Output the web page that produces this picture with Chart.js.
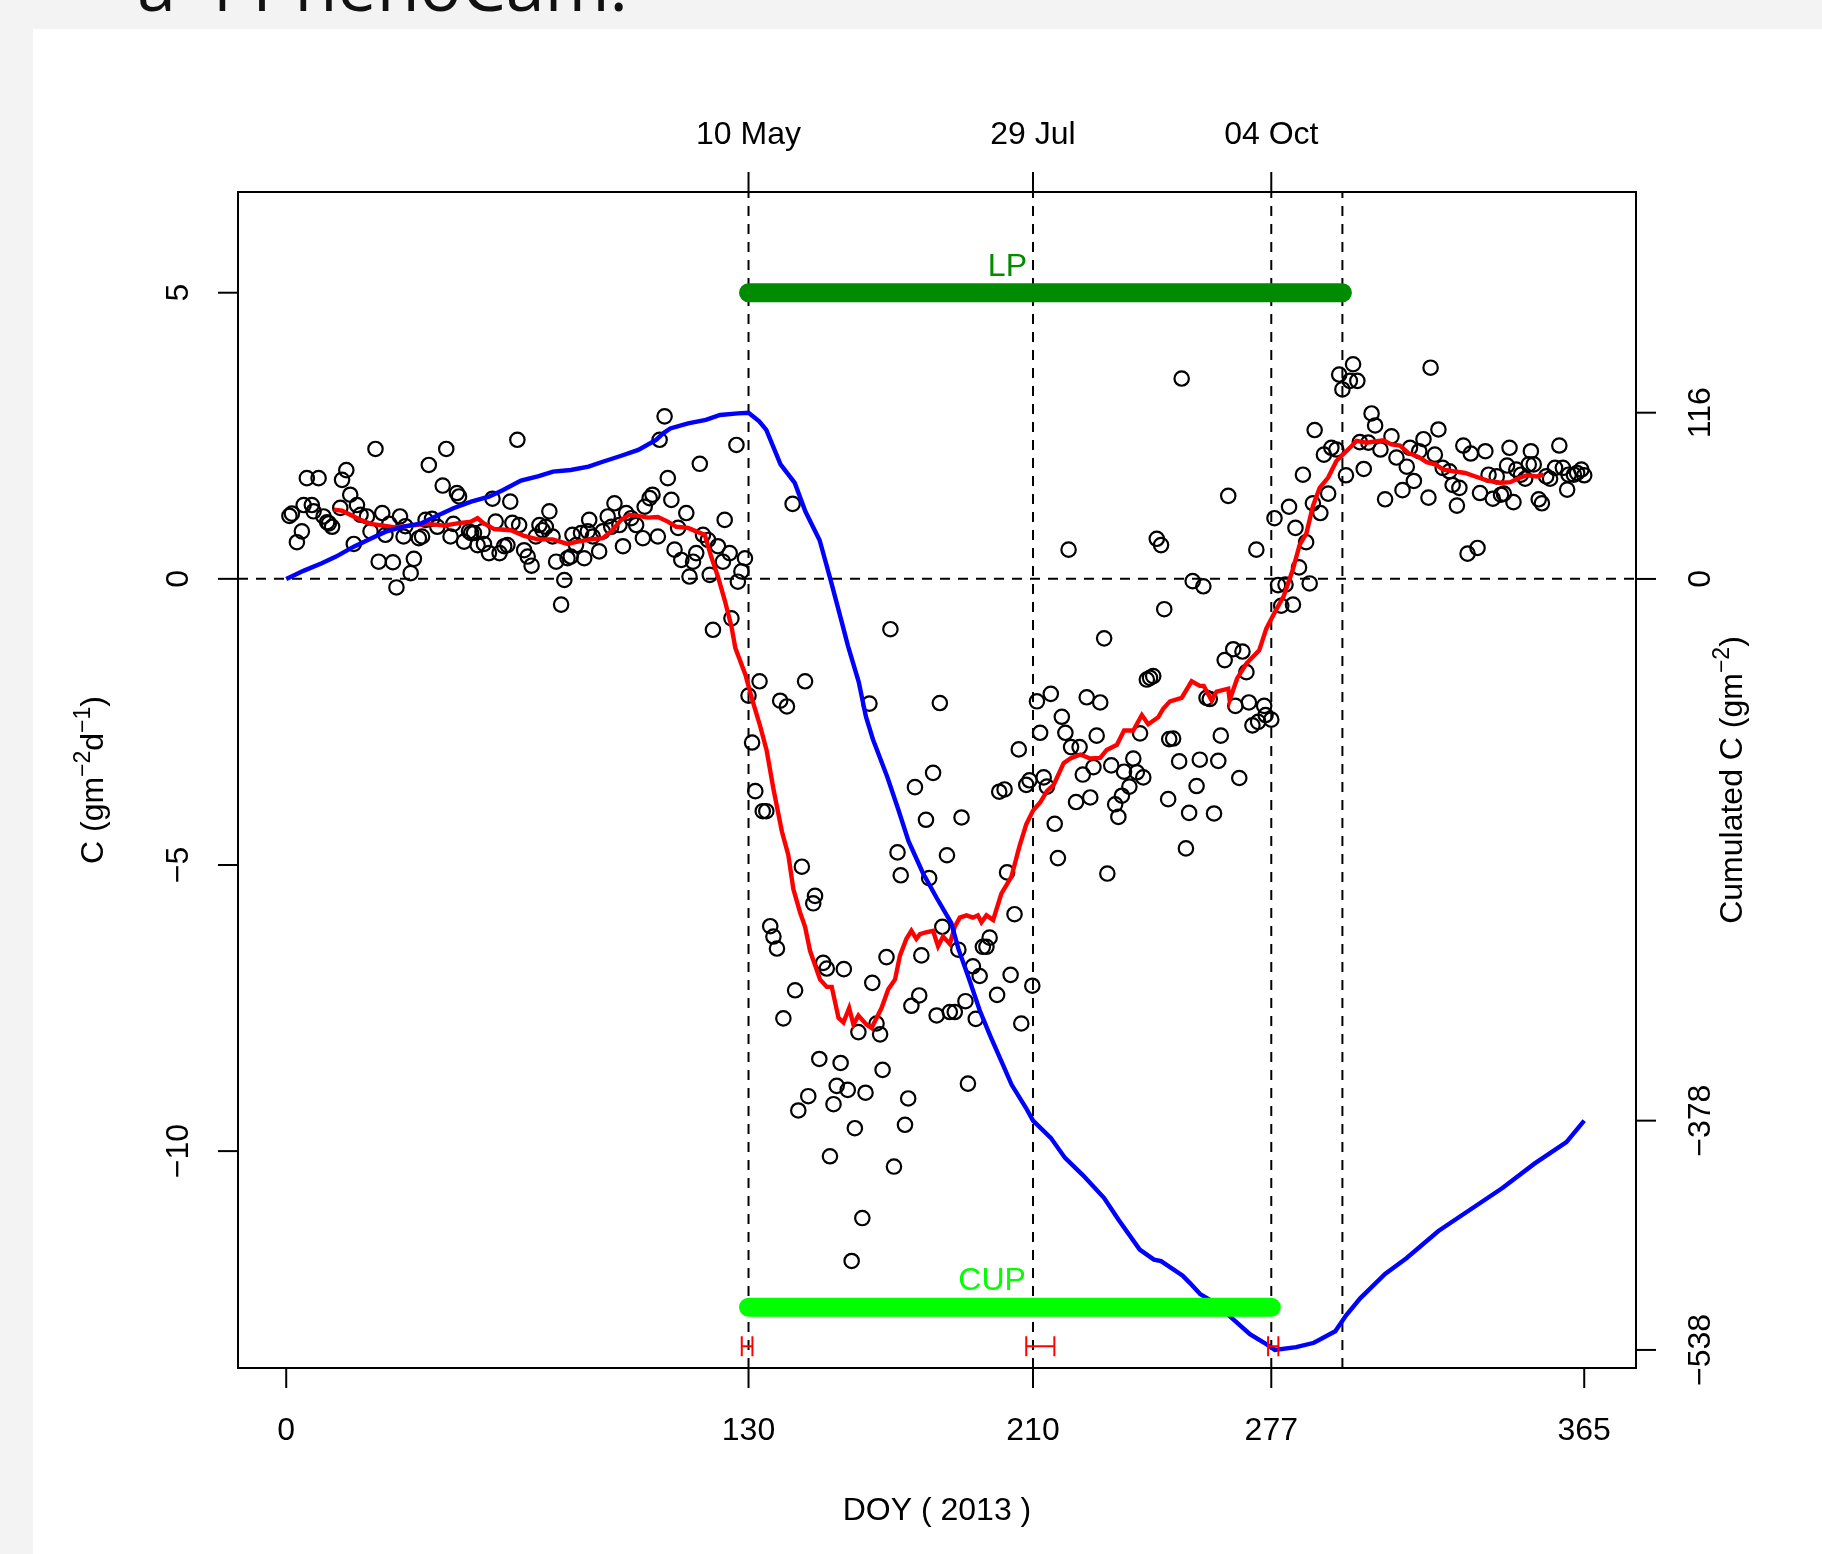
<!DOCTYPE html>
<html><head><meta charset="utf-8">
<script src="https://cdn.jsdelivr.net/npm/chart.js@4.4.0/dist/chart.umd.min.js"></script>
<style>
html,body{margin:0;padding:0;background:#f3f3f3;width:1822px;height:1554px;overflow:hidden;}
#panel{position:absolute;left:33px;top:29px;right:0;bottom:0;background:#fff;}
#hdr{position:absolute;left:137px;top:-51px;font-family:"Open Sans",sans-serif;font-size:70px;line-height:70px;color:#111;white-space:nowrap;}
canvas{position:absolute;left:0;top:0;}
</style></head>
<body>
<div id="panel"></div>
<div id="hdr">a 4 PhenoCam:</div>
<canvas id="c" width="1822" height="1554"></canvas>
<script>
// ---- daily net carbon flux (circles) ----
const doy = [0.9,1.6,3.0,4.4,4.9,5.8,7.2,7.7,9.1,10.5,11.5,12.0,12.9,15.2,15.7,16.9,18.0,19.0,19.9,20.9,22.7,23.7,25.1,26.0,27.0,27.9,29.0,30.0,31.0,32.0,33.0,33.5,35.0,35.9,37.3,38.2,39.2,40.1,41.0,42.5,44.0,45.0,46.2,47.0,48.0,48.6,50.0,51.4,52.0,52.8,53.8,55.2,55.6,57.0,58.0,58.9,60.0,61.3,62.2,63.0,63.6,65.0,65.5,66.9,67.9,69.0,70.2,71.2,72.1,73.0,74.0,74.9,75.9,77.3,78.2,79.1,80.0,80.5,81.5,82.9,83.8,84.8,85.2,86.2,88.0,89.0,90.4,91.4,92.3,93.7,94.7,95.6,97.0,98.4,100.3,100.8,102.2,103.0,104.5,105.0,106.4,107.3,108.3,109.2,110.2,111.1,112.5,113.4,114.4,115.3,116.3,117.2,118.6,119.1,120.0,121.4,122.8,123.3,124.7,125.2,126.6,127.0,128.0,129.0,
130.0,131.0,131.9,133.1,134.0,135.0,136.1,137.0,138.0,138.9,139.8,140.8,142.4,143.1,144.0,145.0,145.9,146.8,148.2,148.7,149.9,151.0,152.0,152.9,153.9,154.8,155.9,156.8,157.9,159.0,159.9,160.9,162.0,162.9,164.0,164.8,166.0,167.0,167.7,168.8,169.9,170.9,171.9,172.8,174.0,174.9,175.8,176.8,178.0,178.6,179.9,180.8,181.9,182.9,183.8,184.5,185.8,186.6,188.0,189.0,189.9,191.0,191.7,193.1,193.9,195.0,195.9,196.9,197.8,199.9,200.5,202.0,202.7,203.7,204.8,206.0,206.7,208.1,209.0,209.8,
211.1,212.0,213.0,213.9,215.0,216.1,217.0,218.1,219.1,220.0,220.7,222.1,223.1,224.0,225.1,226.1,227.0,227.9,228.9,230.0,230.9,232.0,233.1,234.0,235.0,235.6,237.1,238.2,239.2,240.1,241.0,242.0,242.9,243.8,244.8,246.0,246.9,248.0,248.3,249.4,251.1,251.8,253.0,253.9,254.9,256.0,256.9,257.9,258.8,259.7,260.9,262.1,262.8,263.9,264.9,266.3,266.9,268.0,268.9,270.0,270.7,271.7,272.8,273.3,275.0,275.4,277.0,277.9,278.9,279.8,281.0,282.0,283.1,283.8,284.8,285.9,286.8,287.8,288.7,289.2,
290.8,291.8,293.0,293.9,295.3,296.1,297.0,298.0,299.1,300.0,301.2,301.9,303.0,304.3,305.2,306.2,307.7,309.0,310.8,312.2,313.9,315.1,316.0,317.1,318.6,319.8,321.2,321.8,323.0,324.0,325.2,327.1,328.0,329.2,329.9,331.0,332.2,333.1,335.0,335.7,337.2,338.1,339.3,340.4,341.6,342.4,343.3,344.0,345.1,345.9,347.2,348.4,349.4,350.0,350.8,352.2,353.1,354.3,355.4,356.8,358.0,359.0,360.2,360.6,362.1,363.0,364.2,365.0];
const cflux = [1.10,1.14,0.64,0.83,1.29,1.76,1.29,1.18,1.76,1.09,0.99,0.97,0.91,1.24,1.73,1.90,1.47,0.61,1.29,1.12,1.09,0.83,2.27,0.30,1.15,0.77,0.96,0.29,-0.15,1.09,0.74,0.92,0.10,0.35,0.71,0.74,1.03,1.99,1.05,0.91,1.63,2.27,0.74,0.96,1.50,1.44,0.65,0.83,0.80,0.80,0.59,0.83,0.61,0.45,1.40,1.00,0.45,0.57,0.59,1.35,0.98,2.43,0.94,0.50,0.39,0.23,0.74,0.94,0.85,0.91,1.18,0.74,0.30,-0.45,-0.02,0.36,0.39,0.77,0.59,0.80,0.36,0.83,1.03,0.74,0.48,0.83,1.09,0.91,1.32,0.94,0.57,1.15,1.06,0.94,0.71,1.26,1.41,1.47,0.74,2.43,2.84,1.76,1.38,0.51,0.89,0.33,1.15,0.04,0.30,0.45,2.01,0.77,0.68,0.07,-0.89,0.57,0.30,1.03,0.45,-0.69,2.34,-0.05,0.13,0.36,
-2.04,-2.86,-3.71,-1.79,-4.06,-4.06,-6.07,-6.25,-6.46,-2.13,-7.68,-2.23,1.31,-7.19,-9.29,-5.03,-1.79,-9.04,-5.67,-5.54,-8.39,-6.71,-6.81,-10.09,-9.18,-8.86,-8.46,-6.82,-8.93,-11.92,-9.60,-7.92,-11.17,-8.98,-2.18,-7.06,-7.77,-7.96,-8.58,-6.61,-0.88,-10.27,-4.78,-5.18,-9.54,-9.08,-7.46,-3.64,-7.28,-6.58,-4.21,-5.23,-3.39,-7.63,-2.17,-6.08,-4.83,-7.57,-7.57,-6.48,-4.17,-7.38,-8.82,-6.77,-7.69,-6.94,-6.43,-6.43,-6.27,-7.27,-3.72,-3.68,-5.13,-6.92,-5.86,-2.98,-7.77,-3.60,-3.52,-7.11,
-2.14,-2.69,-3.47,-3.63,-2.01,-4.28,-4.88,-2.41,-2.69,0.51,-2.94,-3.90,-2.94,-3.42,-2.07,-3.82,-3.29,-2.74,-2.16,-1.04,-5.15,-3.26,-3.94,-4.16,-3.79,-3.37,-3.63,-3.14,-3.38,-2.70,-3.47,-1.76,-1.73,-1.70,0.70,0.59,-0.53,-3.85,-2.80,-2.79,-3.19,3.50,-4.71,-4.09,-0.04,-3.62,-3.16,-0.13,-2.08,-2.10,-4.10,-3.18,-2.74,-1.42,1.45,-1.23,-2.22,-3.48,-1.27,-1.63,-2.16,-2.56,0.51,-2.50,-2.22,-2.38,-2.46,1.06,-0.11,-0.47,-0.10,1.26,-0.45,0.89,0.20,1.82,0.64,-0.08,1.32,2.60,
1.15,2.17,1.49,2.29,2.26,3.57,3.31,1.81,3.46,3.75,3.46,2.39,1.92,2.38,2.89,2.68,2.26,1.39,2.49,2.12,1.55,1.96,2.29,1.71,2.23,2.44,1.42,3.69,2.17,2.61,1.94,1.88,1.64,1.28,1.59,2.33,0.44,2.19,0.54,1.50,2.23,1.82,1.40,1.79,1.47,1.49,1.98,2.29,1.34,1.91,1.82,1.75,2.00,2.23,2.00,1.39,1.32,1.79,1.75,1.94,2.33,1.94,1.56,1.82,1.82,1.85,1.91,1.81];

// ---- smoothed flux (red line) ----
const smoothDoy = [13.3,15.7,18,20.9,23.7,27.4,30.7,35,39.7,44.4,48.1,51.9,53.8,55.6,58.5,63.2,66.9,70.7,74.9,79.1,82,85.7,89,91.4,94.2,96.5,98.9,101.7,104.5,107.3,109.7,113,115.3,117.7,119.5,121.4,123.3,125.2,126.3,129.1,130.9,133.3,135.1,137,139.4,141.2,142.6,144.5,145.9,147.3,148.7,150.1,152,153.4,155.3,156.7,158.3,159.5,160.9,163.2,164.6,167.4,169.3,171.2,172.6,174.4,175.8,177.2,178.2,179.6,181.9,183.3,184.7,186.6,188,189.4,191.3,193.1,194.5,195.5,196.9,198.8,201.1,203.9,206.2,208.1,210,212.1,213.9,215.8,218.6,220.5,223.3,226.1,228.9,230.7,233.6,235.6,238.2,240.6,242.4,245.2,246.6,248.5,251.8,254.6,256.9,258,260.2,261.6,264.9,265.3,267.4,270,273.6,275.6,277.5,280.5,283,285,286.9,288.7,290.6,293,295.3,298.1,301,303.8,308.5,310.8,313.2,315.5,318.4,320.7,323.1,325.4,328.2,331.5,334.8,337.6,341.4,344.2,347,348.9,351.7,353.6];
const smoothVal = [1.21,1.19,1.12,1.03,0.96,0.93,0.90,0.93,0.96,0.93,0.97,1.0,1.06,0.97,0.87,0.85,0.75,0.69,0.69,0.61,0.65,0.69,0.71,0.83,1.03,1.12,1.10,1.07,1.08,1.0,0.91,0.89,0.83,0.77,0.39,0.04,-0.37,-0.83,-1.21,-1.67,-2.08,-2.58,-3.0,-3.67,-4.42,-4.83,-5.42,-5.83,-6.08,-6.5,-6.75,-7.0,-7.13,-7.13,-7.67,-7.75,-7.5,-7.79,-7.63,-7.79,-7.85,-7.5,-7.17,-7.0,-6.58,-6.29,-6.15,-6.29,-6.21,-6.18,-6.15,-6.42,-6.25,-6.38,-6.08,-5.92,-5.88,-5.92,-5.88,-6.0,-5.88,-5.96,-5.5,-5.21,-4.67,-4.29,-4.05,-3.9,-3.71,-3.60,-3.22,-3.14,-3.07,-3.14,-3.13,-2.99,-2.90,-2.65,-2.65,-2.38,-2.54,-2.42,-2.27,-2.14,-2.08,-1.79,-1.87,-1.87,-2.12,-1.97,-1.92,-2.12,-1.74,-1.48,-1.25,-0.87,-0.64,-0.3,0.15,0.6,0.80,1.27,1.59,1.77,2.06,2.23,2.41,2.38,2.42,2.35,2.33,2.20,2.13,2.04,2.0,1.91,1.88,1.85,1.78,1.72,1.68,1.69,1.77,1.81,1.79,1.82];

// ---- cumulated carbon (blue line, right axis) ----
const cumDoy = [0,5,10,14,19,24,28,33,38,42,47,52,57,61,66,71,75,80,85,89,94,99,104,106,108,113,118,122,127,130,133,135,139,143,146,150,153,156,158,161,163,165,169,172,175,179,183,187,189,192,195,198,201,204,208,210,215,219,224,230,234,240,244,246,252,254,257,261,266,271,275,278,284,289,295,298,302,309,315,324,333,342,351,360,365];
const cumVal = [0,5.8,11,15.6,22.5,28.4,33,36.5,38.8,43.5,49.3,53.9,57.4,62.1,68.6,71.8,74.9,76,78.4,81.8,85.8,90,97,101.6,105,108.6,111,114.4,115.5,116,110,104,80,67,47,27,0,-28,-47,-72,-96,-112,-138,-160,-183,-205,-223,-240,-258,-279,-301,-319,-336,-353,-369,-378,-390,-404,-416,-432,-447,-468,-475,-476,-486,-491,-499,-505,-516,-527,-533,-538,-536,-533,-525,-514,-502,-485,-474,-455,-440,-425,-408,-393,-378];

// ---- phases, markers, uncertainty ----
const phaseNames = ['LP','CUP'];
const phaseStart = [130,130];
const phaseEnd = [297,277];
const phaseLevel = [5,-12.73];
const phaseLabelDoy = [202.8,198.5];
const markerDoy = [130,210,277,297];
const errLow = [128.1,208.1,276.1];
const errHigh = [131.1,216.0,279.0];
const errLevel = -13.41;

// ---- axes ----
const X_MIN = -13.56, X_MAX = 379.56;
const Y_MIN = -13.79, Y_MAX = 6.76;
const Y2_MIN = -550.6, Y2_MAX = 270.0;
const bottomTicks = [0,130,210,277,365];
const topTicks = [130,210,277];
const topTickLabels = ['10 May','29 Jul','04 Oct'];
const leftTicks = [-10,-5,0,5];
const leftTickLabels = ['\u221210','\u22125','0','5'];
const rightTicks = [116,0,-378,-538];
const rightTickLabels = ['116','0','\u2212378','\u2212538'];

const FONT = '"Liberation Sans", Arial, Helvetica, sans-serif';

const datasets = [];
// dashed reference lines
markerDoy.forEach(d => datasets.push({
  data:[{x:d,y:Y_MIN},{x:d,y:Y_MAX}], showLine:true, pointRadius:0,
  borderColor:'#000', borderWidth:2, borderDash:[10,8], order:9
}));
datasets.push({
  data:[{x:X_MIN,y:0},{x:X_MAX,y:0}], showLine:true, pointRadius:0,
  borderColor:'#000', borderWidth:2, borderDash:[10,8], order:9
});
// circles
datasets.push({
  data: doy.map((d,i)=>({x:d,y:cflux[i]})),
  pointStyle:'circle', pointRadius:7.2, pointBorderWidth:2.2,
  pointBorderColor:'#000', pointBackgroundColor:'rgba(0,0,0,0)', showLine:false, order:8
});
// red smoothed line
datasets.push({
  data: smoothDoy.map((d,i)=>({x:d,y:smoothVal[i]})),
  showLine:true, pointRadius:0, borderColor:'#ff0000', borderWidth:4.4, tension:0, order:7
});
// blue cumulative
datasets.push({
  data: cumDoy.map((d,i)=>({x:d,y:cumVal[i]})), yAxisID:'y2',
  showLine:true, pointRadius:0, borderColor:'#0000ff', borderWidth:4.4, tension:0, order:6
});
// phase bars
const phaseColors = ['#008b00','#00ff00'];
phaseNames.forEach((n,i)=>datasets.push({
  data:[{x:phaseStart[i],y:phaseLevel[i]},{x:phaseEnd[i],y:phaseLevel[i]}],
  showLine:true, pointRadius:0, borderColor:phaseColors[i], borderWidth:19,
  borderCapStyle:'round', order:2
}));
// uncertainty bars
errLow.forEach((lo,i)=>datasets.push({
  data:[{x:lo,y:errLevel},{x:errHigh[i],y:errLevel}],
  showLine:true, borderColor:'#ff0000', borderWidth:2,
  pointStyle:'line', pointRotation:90, pointRadius:10, pointBorderWidth:2,
  pointBorderColor:'#ff0000', pointBackgroundColor:'#ff0000', order:1
}));

const rAxes = {
  id:'rAxes',
  afterDraw(chart){
    const ctx = chart.ctx, a = chart.chartArea;
    const x = chart.scales.x, y = chart.scales.y, y2 = chart.scales.y2;
    ctx.save();
    ctx.strokeStyle = '#000'; ctx.fillStyle = '#000'; ctx.lineWidth = 2;
    ctx.strokeRect(a.left, a.top, a.right-a.left, a.bottom-a.top);
    const seg = (x1,y1,x2,y2_)=>{ctx.beginPath();ctx.moveTo(x1,y1);ctx.lineTo(x2,y2_);ctx.stroke();};
    ctx.font = '32px ' + FONT;
    ctx.textAlign = 'center'; ctx.textBaseline = 'alphabetic';
    bottomTicks.forEach(v=>{const p=x.getPixelForValue(v); seg(p,a.bottom,p,a.bottom+20); ctx.fillText(String(v),p,a.bottom+72);});
    topTicks.forEach((v,i)=>{const p=x.getPixelForValue(v); seg(p,a.top,p,a.top-20); ctx.fillText(topTickLabels[i],p,a.top-48);});
    leftTicks.forEach((v,i)=>{const p=y.getPixelForValue(v); seg(a.left,p,a.left-20,p);
      ctx.save(); ctx.translate(a.left-50,p); ctx.rotate(-Math.PI/2); ctx.fillText(leftTickLabels[i],0,0); ctx.restore();});
    rightTicks.forEach((v,i)=>{const p=y2.getPixelForValue(v); seg(a.right,p,a.right+20,p);
      ctx.save(); ctx.translate(a.right+74,p); ctx.rotate(-Math.PI/2); ctx.fillText(rightTickLabels[i],0,0); ctx.restore();});
    // titles
    const cx = (a.left+a.right)/2, cy = (a.top+a.bottom)/2;
    ctx.fillText('DOY ( 2013 )', cx, a.bottom+152);
    const drawRich = (parts, px, py)=>{
      ctx.save(); ctx.translate(px,py); ctx.rotate(-Math.PI/2); ctx.textAlign='left';
      let w=0; parts.forEach(p=>{ctx.font=(p.sup?'23px ':'32px ')+FONT; w+=ctx.measureText(p.t).width;});
      let cur=-w/2;
      parts.forEach(p=>{ctx.font=(p.sup?'23px ':'32px ')+FONT; ctx.fillText(p.t,cur,p.sup?-13:0); cur+=ctx.measureText(p.t).width;});
      ctx.restore();
    };
    drawRich([{t:'C (gm'},{t:'\u22122',sup:true},{t:'d'},{t:'\u22121',sup:true},{t:')'}], a.left-135, cy);
    drawRich([{t:'Cumulated C (gm'},{t:'\u22122',sup:true},{t:')'}], a.right+106, cy);
    // phase labels
    ctx.font = '32px ' + FONT; ctx.textAlign='center';
    phaseNames.forEach((n,i)=>{ctx.fillStyle=phaseColors[i];
      ctx.fillText(n, x.getPixelForValue(phaseLabelDoy[i]), y.getPixelForValue(phaseLevel[i])-17);});
    ctx.restore();
  }
};

new Chart(document.getElementById('c'), {
  type:'scatter',
  data:{datasets},
  options:{
    responsive:false, animation:false, devicePixelRatio:1, events:[],
    layout:{padding:{left:238,right:186,top:192,bottom:186}},
    plugins:{legend:{display:false}, tooltip:{enabled:false}, title:{display:false}},
    scales:{
      x:{type:'linear',min:X_MIN,max:X_MAX,display:false},
      y:{type:'linear',min:Y_MIN,max:Y_MAX,display:false},
      y2:{type:'linear',min:Y2_MIN,max:Y2_MAX,display:false,position:'right'}
    }
  },
  plugins:[rAxes]
});
</script></body></html>
